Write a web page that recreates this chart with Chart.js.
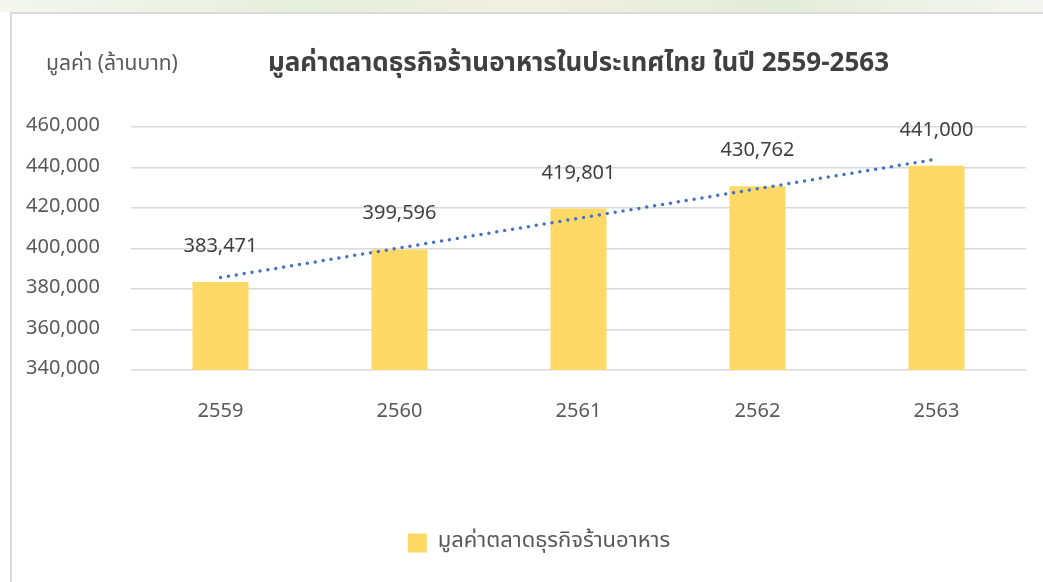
<!DOCTYPE html>
<html>
<head>
<meta charset="utf-8">
<script src="https://cdn.jsdelivr.net/npm/chart.js@4"></script>
<style>
  body { margin: 0; background: #fff; width: 1043px; height: 582px; overflow: hidden; position: relative; }
  #strip { position: absolute; left: 0; top: 0; width: 1043px; height: 12px;
           background: linear-gradient(90deg, #f4f6ef 0%, #e6eedc 30%, #f1efe0 50%, #e4ecda 75%, #f5f6f1 100%); }
  #box { position: absolute; left: 10px; top: 12px; width: 1100px; height: 600px; border: 2px solid #d9d9d9; background: #fff; }
  #wrap { position: absolute; left: 0; top: 0; width: 1043px; height: 582px; }
</style>
</head>
<body>
<div id="strip"></div>
<div id="box"></div>
<div id="wrap"><canvas id="grafico" width="1043" height="582"></canvas></div>
<script>
const anos = ['2559', '2560', '2561', '2562', '2563'];
const valores = [383471, 399596, 419801, 430762, 441000];
// linha de tendência (só as pontas)
const tendencia = [385700, null, null, null, 444200];
const titulo = 'มูลค่าตลาดธุรกิจร้านอาหารในประเทศไทย ในปี 2559-2563';
const unidade = 'มูลค่า (ล้านบาท)';
const serie = 'มูลค่าตลาดธุรกิจร้านอาหาร';

const fonte = "'Noto Sans Thai', 'Leelawadee UI', 'Noto Sans', sans-serif";

const rotulos = {
  id: 'rotulos',
  afterLayout(chart) {
    // legenda um pouco à direita, como no original
    chart.legend.left = 52;
  },
  afterDatasetsDraw(chart) {
    const ctx = chart.ctx;
    const meta = chart.getDatasetMeta(0);
    ctx.save();
    ctx.font = '20px ' + fonte;
    ctx.fillStyle = '#404040';
    ctx.textAlign = 'center';
    ctx.textBaseline = 'middle';
    meta.data.forEach((bar, i) => {
      ctx.fillText(valores[i].toLocaleString('en-US'), bar.x, bar.y - 34);
    });
    ctx.fillStyle = '#595959';
    ctx.font = '21px ' + fonte;
    ctx.textAlign = 'left';
    ctx.fillText(unidade, 46, 66);
    ctx.restore();
  }
};

new Chart(document.getElementById('grafico'), {
  type: 'bar',
  data: {
    labels: anos,
    datasets: [{
      label: serie,
      data: valores,
      backgroundColor: '#FFD966',
      categoryPercentage: 1,
      barPercentage: 0.313,
      order: 2
    }, {
      type: 'line',
      label: 'trend',
      data: tendencia,
      spanGaps: true,
      borderColor: '#4472C4',
      borderWidth: 3.5,
      borderCapStyle: 'round',
      borderDash: [0, 8],
      pointRadius: 0,
      fill: false,
      order: 1
    }]
  },
  options: {
    responsive: false,
    animation: false,
    layout: { padding: { top: 30, right: 17, left: 0, bottom: 18 } },
    plugins: {
      title: {
        display: true,
        text: titulo,
        fullSize: false,
        color: '#404040',
        font: { family: fonte, size: 26, weight: 'bold' },
        padding: { top: 20, bottom: 46 }
      },
      legend: {
        position: 'bottom',
        labels: {
          filter: item => item.datasetIndex === 0,
          color: '#595959',
          font: { family: fonte, size: 22 },
          boxWidth: 19,
          boxHeight: 19,
          padding: 10
        }
      },
      tooltip: { enabled: false }
    },
    scales: {
      x: {
        grid: { display: false },
        border: { display: false },
        ticks: { color: '#595959', font: { family: fonte, size: 20 }, padding: 23 },
        afterFit: s => { s.height = 152; }
      },
      y: {
        min: 340000,
        max: 460000,
        grid: { color: '#d9d9d9', lineWidth: 1.5, drawTicks: false },
        border: { display: false },
        ticks: {
          stepSize: 20000,
          color: '#595959',
          font: { family: fonte, size: 20 },
          padding: 31,
          callback: v => v.toLocaleString('en-US')
        },
        afterFit: s => { s.width = 131; }
      }
    }
  },
  plugins: [rotulos]
});
</script>
</body>
</html>
